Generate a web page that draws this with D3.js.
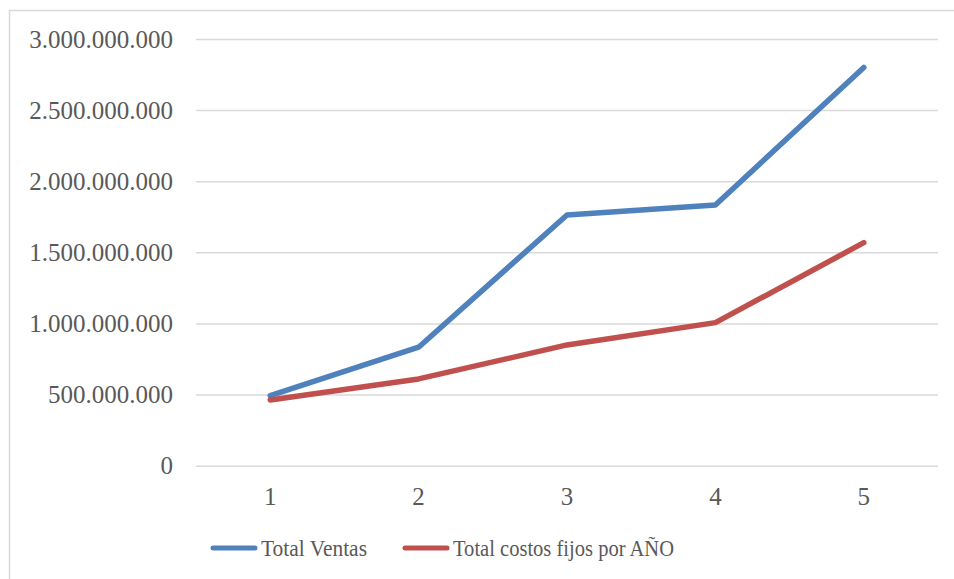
<!DOCTYPE html>
<html>
<head>
<meta charset="utf-8">
<script src="https://cdn.jsdelivr.net/npm/d3@7"></script>
<style>
  html, body { margin: 0; padding: 0; background: #fff; }
  svg { display: block; }
  text { font-family: "Liberation Serif", "Times New Roman", serif; fill: #595959; }
</style>
</head>
<body>
<svg id="chart" width="954" height="579"></svg>
<script>
// Years of the projection and the two yearly totals
const years = ["1", "2", "3", "4", "5"];
const totalVentas = [492000000, 833000000, 1763000000, 1833000000, 2800000000];
const totalCostosFijos = [462000000, 610000000, 849000000, 1006000000, 1568000000];
const yTicks = [0, 500000000, 1000000000, 1500000000, 2000000000, 2500000000, 3000000000];
const seriesNames = ["Total Ventas", "Total costos fijos por AÑO"];
const seriesColors = ["#4F81BD", "#C0504D"];

const svg = d3.select("#chart");

// Chart frame
svg.append("rect")
  .attr("x", 9.5).attr("y", 10.5)
  .attr("width", 960).attr("height", 600)
  .attr("fill", "none").attr("stroke", "#d9d9d9").attr("stroke-width", 1.5);

const plot = { left: 196, right: 938, top: 39, bottom: 465.7 };

const x = d3.scaleBand().domain(years).range([plot.left, plot.right]);
const y = d3.scaleLinear().domain([0, 3000000000]).range([plot.bottom, plot.top]);

const fmt = v => d3.format(",")(v).replace(/,/g, ".");

// Horizontal gridlines and value labels
const yAxis = d3.axisLeft(y)
  .tickValues(yTicks)
  .tickSize(-(plot.right - plot.left))
  .tickPadding(23)
  .tickFormat(fmt);

const gy = svg.append("g")
  .attr("transform", `translate(${plot.left},0)`)
  .call(yAxis);
gy.select(".domain").remove();
gy.selectAll(".tick line").attr("stroke", "#d9d9d9").attr("stroke-width", 1.5);
gy.selectAll(".tick text")
  .attr("font-size", 25)
  .attr("fill", "#595959")
  .style("font-family", "'Liberation Serif', serif");

// Category labels
const xAxis = d3.axisBottom(x).tickSize(0).tickPadding(22);
const gx = svg.append("g")
  .attr("transform", `translate(0,${plot.bottom})`)
  .call(xAxis);
gx.select(".domain").remove();
gx.selectAll(".tick text")
  .attr("font-size", 25)
  .attr("fill", "#595959")
  .style("font-family", "'Liberation Serif', serif");

// Series lines
const line = d3.line()
  .x((d, i) => x(years[i]) + x.bandwidth() / 2)
  .y(d => y(d));

[totalVentas, totalCostosFijos].forEach((vals, k) => {
  svg.append("path")
    .datum(vals)
    .attr("d", line)
    .attr("fill", "none")
    .attr("stroke", seriesColors[k])
    .attr("stroke-width", 5.5)
    .attr("stroke-linecap", "round")
    .attr("stroke-linejoin", "round");
});

// Legend
const legendItems = [
  { x: 211, textWidth: 106 },
  { x: 403, textWidth: 221 }
];
const legend = svg.append("g");
legendItems.forEach((item, k) => {
  legend.append("line")
    .attr("x1", item.x + 2).attr("x2", item.x + 44)
    .attr("y1", 548).attr("y2", 548)
    .attr("stroke", seriesColors[k])
    .attr("stroke-width", 5)
    .attr("stroke-linecap", "round");
  legend.append("text")
    .attr("x", item.x + 50)
    .attr("y", 556)
    .attr("font-size", 24)
    .attr("textLength", item.textWidth)
    .attr("lengthAdjust", "spacingAndGlyphs")
    .text(seriesNames[k]);
});
</script>
</body>
</html>
